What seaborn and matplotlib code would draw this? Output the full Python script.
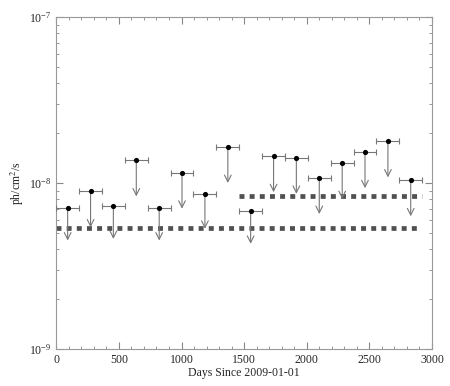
import numpy as np
import matplotlib
matplotlib.use('Agg')
import matplotlib.pyplot as plt
import seaborn as sns
from matplotlib.ticker import LogLocator, MultipleLocator, NullFormatter

# half-year bins (days since 2009-01-01)
days = [91, 274, 456, 639, 822, 1004, 1187, 1370, 1552, 1735, 1917, 2100, 2283, 2465, 2648, 2830]
day_err = [91.3] * 16
flux_ul = [7.06e-9, 8.95e-9, 7.27e-9, 1.38e-8, 7.06e-9, 1.15e-8, 8.6e-9, 1.65e-8,
           6.78e-9, 1.455e-8, 1.414e-8, 1.07e-8, 1.32e-8, 1.54e-8, 1.79e-8, 1.04e-8]
arrow_tip = [4.5e-9, 5.4e-9, 4.6e-9, 8.3e-9, 4.5e-9, 7.0e-9, 5.3e-9, 1.0e-8,
             4.3e-9, 8.8e-9, 8.6e-9, 6.5e-9, 8.0e-9, 9.3e-9, 1.08e-8, 6.3e-9]

# flat reference levels
lvl1_x = [0, 2900]
lvl1_y = [5.36e-9, 5.36e-9]
lvl2_x = [1461, 2922]
lvl2_y = [8.35e-9, 8.35e-9]

sns.set_style('ticks')
plt.rcParams['font.family'] = ['Liberation Serif', 'DejaVu Serif']
plt.rcParams['mathtext.fontset'] = 'stix'

fig, ax = plt.subplots(figsize=(4.5, 3.86), dpi=100)
fig.subplots_adjust(left=0.125, right=0.96, top=0.956, bottom=0.096)

grey = '#505050'
sns.lineplot(x=lvl1_x, y=lvl1_y, ax=ax, color=grey, lw=3.4,
             linestyle=(0, (1.05, 1.1)))
sns.lineplot(x=lvl2_x, y=lvl2_y, ax=ax, color=grey, lw=3.4,
             linestyle=(0, (1.05, 1.1)))
for l in ax.lines:
    l.set_dash_capstyle('butt')

ax.errorbar(days, flux_ul, xerr=day_err, fmt='none', ecolor='#777777',
            elinewidth=0.8, capsize=2, capthick=0.8, zorder=3)
for x, y, t in zip(days, flux_ul, arrow_tip):
    ax.annotate('', xy=(x, t), xytext=(x, y),
                arrowprops=dict(arrowstyle='->', color='#777777', lw=0.8,
                                mutation_scale=12, shrinkA=0, shrinkB=0))
sns.scatterplot(x=days, y=flux_ul, ax=ax, color='black', s=14, zorder=4,
                edgecolor='black', linewidth=0)

ax.set_yscale('log')
ax.set_ylim(1e-9, 1e-7)
ax.set_xlim(0, 3000)
ax.xaxis.set_major_locator(MultipleLocator(500))
ax.xaxis.set_minor_locator(MultipleLocator(100))
ax.yaxis.set_major_locator(LogLocator(base=10))
ax.yaxis.set_minor_locator(LogLocator(base=10, subs=np.arange(2, 10)))
ax.yaxis.set_minor_formatter(NullFormatter())
ax.tick_params(which='both', direction='in', top=True, right=True,
               color='#888888', labelsize=8.5)
ax.tick_params(which='major', length=5)
ax.tick_params(which='minor', length=2.5)
for s in ax.spines.values():
    s.set_color('#999999')
    s.set_linewidth(0.8)

ax.set_xlabel('Days Since 2009-01-01', fontsize=8.5, labelpad=1)
ax.set_ylabel('ph/cm$^2$/s', fontsize=8.5, labelpad=2)

fig.savefig('out.png', dpi=100)
